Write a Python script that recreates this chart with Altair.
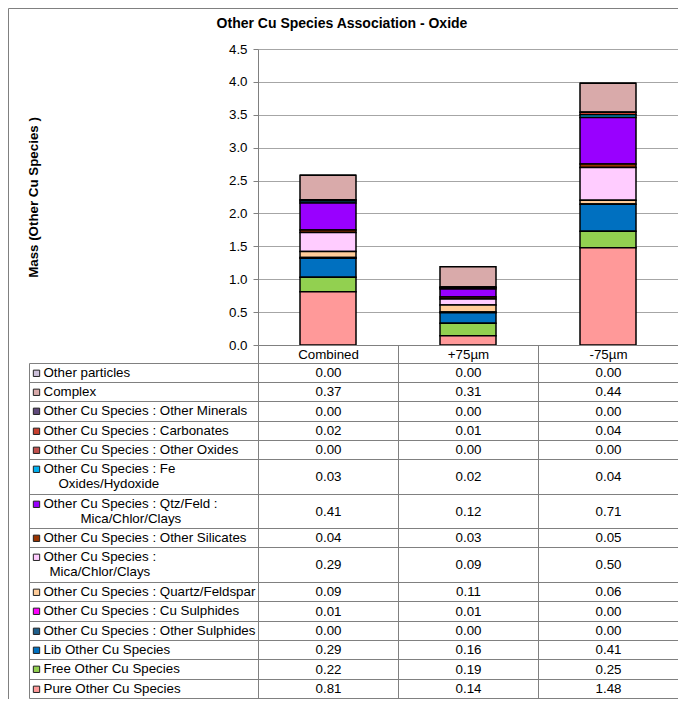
import altair as alt
import pandas as pd

chart_title = "Other Cu Species Association - Oxide"
y_title = "Mass (Other Cu Species )"
groups = ["Combined", "+75µm", "-75µm"]

# table rows, top to bottom (stack is drawn bottom-up, reverse order)
species = [
    "Other particles",
    "Complex",
    "Other Cu Species : Other Minerals",
    "Other Cu Species : Carbonates",
    "Other Cu Species : Other Oxides",
    "Other Cu Species : Fe Oxides/Hydoxide",
    "Other Cu Species : Qtz/Feld : Mica/Chlor/Clays",
    "Other Cu Species : Other Silicates",
    "Other Cu Species : Mica/Chlor/Clays",
    "Other Cu Species : Quartz/Feldspar",
    "Other Cu Species : Cu Sulphides",
    "Other Cu Species : Other Sulphides",
    "Lib Other Cu Species",
    "Free Other Cu Species",
    "Pure Other Cu Species",
]
first_lines = [
    "Other particles",
    "Complex",
    "Other Cu Species : Other Minerals",
    "Other Cu Species : Carbonates",
    "Other Cu Species : Other Oxides",
    "Other Cu Species : Fe",
    "Other Cu Species : Qtz/Feld :",
    "Other Cu Species : Other Silicates",
    "Other Cu Species :",
    "Other Cu Species : Quartz/Feldspar",
    "Other Cu Species : Cu Sulphides",
    "Other Cu Species : Other Sulphides",
    "Lib Other Cu Species",
    "Free Other Cu Species",
    "Pure Other Cu Species",
]
second_lines = ["", "", "", "", "", "Oxides/Hydoxide", "Mica/Chlor/Clays", "",
                "Mica/Chlor/Clays", "", "", "", "", "", ""]
colors = [
    "#CCC0DA", "#D9AAAA", "#604A7B", "#C8402F", "#C0504D", "#00B0F0", "#9900FF",
    "#993300", "#FFCCFF", "#FFCC99", "#FF00FF", "#1F5F8B", "#0070C0", "#92D050", "#FF9999",
]
combined = [0.00, 0.37, 0.00, 0.02, 0.00, 0.03, 0.41, 0.04, 0.29, 0.09, 0.01, 0.00, 0.29, 0.22, 0.81]
plus75 = [0.00, 0.31, 0.00, 0.01, 0.00, 0.02, 0.12, 0.03, 0.09, 0.11, 0.01, 0.00, 0.16, 0.19, 0.14]
minus75 = [0.00, 0.44, 0.00, 0.04, 0.00, 0.04, 0.71, 0.05, 0.50, 0.06, 0.00, 0.00, 0.41, 0.25, 1.48]
y_ticks = [0.0, 0.5, 1.0, 1.5, 2.0, 2.5, 3.0, 3.5, 4.0, 4.5]

# ---- layout (pixels) ----
PLOT_W, PLOT_H = 420, 296
LEG_W, COL_W = 229, 140
TOT_W = LEG_W + 3 * COL_W
HEADER_H, ROW_1, ROW_2 = 17.5, 19.35, 34.4
indents = {5: 15, 6: 37, 8: 6}
FONT = "Liberation Sans"
FS = 13.33
GRID = "#808080"

series = [combined, plus75, minus75]
n = len(species)

# bar data
bar_rows = []
for g, vals in zip(groups, series):
    for i, (s, v) in enumerate(zip(species, vals)):
        bar_rows.append({"Group": g, "Species": s, "Value": v, "Stack": n - 1 - i})
bar_df = pd.DataFrame(bar_rows)

# row geometry of the table
bounds = [0.0, HEADER_H]
for sl in second_lines:
    bounds.append(bounds[-1] + (ROW_2 if sl else ROW_1))
bounds = [round(b) for b in bounds]
TAB_H = bounds[-1]

tx = alt.Scale(domain=[0, TOT_W], range=[-LEG_W + 0.5, PLOT_W + 0.5], nice=False, zero=False)
ty = alt.Scale(domain=[0, TAB_H], range=[PLOT_H + 0.5, PLOT_H + 0.5 + TAB_H], nice=False, zero=False)
X = lambda f: alt.X(f, type="quantitative", scale=tx, axis=None)
Y = lambda f: alt.Y(f, type="quantitative", scale=ty, axis=None)

# lines
segs = [{"u": LEG_W, "u2": TOT_W, "v": 0, "v2": 0}]
for b in bounds[1:]:
    segs.append({"u": 0, "u2": TOT_W, "v": b, "v2": b})
segs.append({"u": 0, "u2": 0, "v": bounds[1], "v2": TAB_H})
for k in range(4):
    segs.append({"u": LEG_W + k * COL_W, "u2": LEG_W + k * COL_W, "v": 0, "v2": TAB_H})
# outer chart frame (left and top)
segs.append({"u": -21, "u2": -21, "v": -337, "v2": TAB_H + 30})
segs.append({"u": -21, "u2": TOT_W + 30, "v": -337, "v2": -337})
seg_df = pd.DataFrame(segs)

title_df = pd.DataFrame({"u": [312.5], "v": [-318], "t": [chart_title]})
head_df = pd.DataFrame({"u": [LEG_W + COL_W * (k + 0.5) for k in range(3)],
                        "v": [bounds[1] / 2] * 3, "t": groups})
val_rows = []
for k, vals in enumerate(series):
    for i, v in enumerate(vals):
        val_rows.append({"u": LEG_W + COL_W * (k + 0.5), "v": (bounds[i + 1] + bounds[i + 2]) / 2,
                         "t": f"{v:.2f}"})
val_df = pd.DataFrame(val_rows)
lab_df = pd.DataFrame({"u": [14] * n, "v": [bounds[i + 1] + 9.8 for i in range(n)],
                       "t": first_lines, "Species": species})
lab2_df = pd.DataFrame([{"u": 14 + indents[i], "v": bounds[i + 1] + 24.6, "t": second_lines[i]}
                        for i in range(n) if second_lines[i]])

color_scale = alt.Scale(domain=species, range=colors)

bars = alt.Chart(bar_df).mark_bar(stroke="black", strokeWidth=1.5, width={"band": 0.4}).encode(
    x=alt.X("Group:N", sort=groups, axis=None,
            scale=alt.Scale(domain=groups, paddingInner=0, paddingOuter=0)),
    y=alt.Y("Value:Q", stack="zero",
            scale=alt.Scale(domain=[0, 4.5], nice=False, zero=True),
            axis=alt.Axis(values=y_ticks, format=".1f", title=y_title,
                          titleFont=FONT, titleFontSize=FS, titleFontWeight="bold",
                          titleColor="black", titleAngle=270, titleX=-225, titleY=148,
                          titleAlign="center", titleBaseline="middle",
                          labelFont=FONT, labelFontSize=FS, labelColor="black",
                          labelPadding=6, tickSize=5, tickColor=GRID,
                          domainColor=GRID, grid=True, gridColor="#A6A6A6")),
    color=alt.Color("Species:N", scale=color_scale, legend=None),
    order=alt.Order("Stack:Q", sort="ascending"),
)

lines = alt.Chart(seg_df).mark_rule(color=GRID, strokeWidth=1).encode(
    x=X("u"), x2="u2", y=Y("v"), y2="v2")

txt = dict(font=FONT, fontSize=FS, color="black", baseline="middle")
ttl = alt.Chart(title_df).mark_text(align="center", baseline="alphabetic", font=FONT, fontSize=14,
                                    fontWeight="bold", color="black").encode(
    x=X("u"), y=Y("v"), text="t:N")
heads = alt.Chart(head_df).mark_text(align="center", **txt).encode(x=X("u"), y=Y("v"), text="t:N")
vals_t = alt.Chart(val_df).mark_text(align="center", **txt).encode(x=X("u"), y=Y("v"), text="t:N")
labs = alt.Chart(lab_df).mark_text(align="left", **txt).encode(x=X("u"), y=Y("v"), text="t:N")
labs2 = alt.Chart(lab2_df).mark_text(align="left", **txt).encode(x=X("u"), y=Y("v"), text="t:N")
sw = alt.Chart(lab_df).mark_square(size=40, filled=True, stroke="#222", strokeWidth=1, opacity=1).encode(
    x=alt.X("u2:Q", scale=tx, axis=None), y=Y("v"),
    color=alt.Color("Species:N", scale=color_scale, legend=None),
).transform_calculate(u2="7")

chart = alt.layer(bars, lines, ttl, heads, vals_t, labs, labs2, sw).resolve_scale(
    x="independent", y="independent"
).properties(
    width=PLOT_W, height=PLOT_H,
    autosize=alt.AutoSizeParams(type="none"),
    padding={"left": 250, "top": 41, "right": 0, "bottom": 354},
).configure_view(stroke=GRID).configure(font=FONT)

chart.save("out.html", embed_options={"renderer": "svg", "actions": False})
